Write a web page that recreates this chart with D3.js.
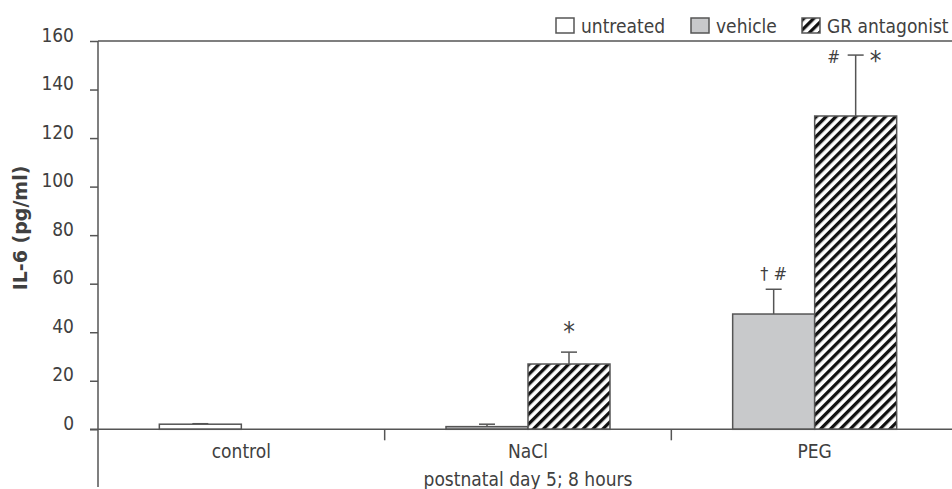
<!DOCTYPE html>
<html>
<head>
<meta charset="utf-8">
<script src="https://cdn.jsdelivr.net/npm/d3@7"></script>
<style>
  body { margin: 0; background: #fff; }
  text { font-family: "DejaVu Sans Condensed", "DejaVu Sans", sans-serif; font-stretch: condensed; fill: #404040; }
</style>
</head>
<body>
<script>
const categories = ["control", "NaCl", "PEG"];
const seriesNames = ["untreated", "vehicle", "GR antagonist"];
// bars drawn in each category, left to right
const barSeries = [["untreated"], ["vehicle", "GR antagonist"], ["vehicle", "GR antagonist"]];
const barValues = [[2.1], [1.1, 26.9], [47.5, 129.1]];
const barErrors = [[0.2], [1.0, 4.9], [10.2, 25.1]];
// significance marks: above the error cap, or left/right of it
const marksAbove = [[""], ["", "*"], ["† #", ""]];
const marksLeft = [[""], ["", ""], ["", "#"]];
const marksRight = [[""], ["", ""], ["", "*"]];
const yTicks = [0, 20, 40, 60, 80, 100, 120, 140, 160];
const xTitle = "postnatal day 5; 8 hours";
const yTitle = "IL-6 (pg/ml)";

const width = 952,
    height = 489;

var svg = d3.select("body").append("svg")
    .attr("width", width)
    .attr("height", height);

var defs = svg.append('defs');
var hatch = defs.append('pattern')
    .attr('id', 'hatch')
    .attr('patternUnits', 'userSpaceOnUse')
    .attr('width', 7)
    .attr('height', 7)
    .attr('patternTransform', 'rotate(45)');
hatch.append('rect').attr('width', 7).attr('height', 7).attr('fill', '#fff');
hatch.append('rect').attr('width', 3.3).attr('height', 7).attr('fill', '#111');

const fills = {"untreated": "#fff", "vehicle": "#c8c9cb", "GR antagonist": "url(#hatch)"};
const axisColor = "#555";

var x = d3.scaleBand().domain(categories).range([98, 958]);
var y = d3.scaleLinear().domain([0, 160]).range([429.3, 41]);
const barW = 82;

// y axis
var yAxis = svg.append('g')
    .attr('transform', 'translate(98,0)')
    .call(d3.axisLeft(y).tickValues(yTicks).tickSize(8).tickPadding(16));
yAxis.select('.domain').remove();
yAxis.selectAll('.tick line').attr('stroke', axisColor).attr('stroke-width', 1.5);
yAxis.selectAll('.tick text')
    .attr('dy', 0)
    .style('font-size', '19px')
    .style('font-family', null);

svg.append('line')
    .attr('x1', 98).attr('x2', 98)
    .attr('y1', y(160)).attr('y2', 487)
    .attr('stroke', axisColor).attr('stroke-width', 1.5);
svg.append('line')
    .attr('x1', 98).attr('x2', width)
    .attr('y1', y(160)).attr('y2', y(160))
    .attr('stroke', axisColor).attr('stroke-width', 1.5);

svg.append('text')
    .attr('transform', 'translate(27,228) rotate(-90)')
    .attr('text-anchor', 'middle')
    .style('font-family', '"DejaVu Sans", sans-serif')
    .style('font-stretch', 'normal')
    .style('font-weight', 'bold')
    .style('font-size', '19px')
    .text(yTitle);

// bars
var groups = svg.append('g').selectAll('g')
    .data(categories)
  .enter().append('g');

groups.each(function(cat, ci) {
    var g = d3.select(this);
    var center = x(cat) + x.bandwidth() / 2;
    barSeries[ci].forEach(function(s, bi) {
        var x0 = center - barW + bi * barW,
            v = barValues[ci][bi],
            top = y(v),
            cap = y(v + barErrors[ci][bi]),
            cx = x0 + barW / 2;
        g.append('line')
            .attr('x1', cx).attr('x2', cx)
            .attr('y1', top).attr('y2', cap)
            .attr('stroke', axisColor).attr('stroke-width', 1.5);
        g.append('line')
            .attr('x1', cx - 8).attr('x2', cx + 8)
            .attr('y1', cap).attr('y2', cap)
            .attr('stroke', axisColor).attr('stroke-width', 1.5);
        g.append('rect')
            .attr('x', x0).attr('y', top)
            .attr('width', barW).attr('height', y(0) - top)
            .attr('fill', fills[s])
            .attr('stroke', axisColor).attr('stroke-width', 1.5);

        var above = marksAbove[ci][bi];
        if (above) {
            var t = g.append('text')
                .attr('x', cx).attr('y', cap - (above == '*' ? 11 : 9))
                .attr('text-anchor', 'middle')
                .style('font-size', above == '*' ? '26px' : '18px')
                .text(above);
        }
        if (marksLeft[ci][bi]) {
            g.append('text')
                .attr('x', cx - 22).attr('y', cap + 8)
                .attr('text-anchor', 'middle')
                .style('font-size', '17px')
                .text(marksLeft[ci][bi]);
        }
        if (marksRight[ci][bi]) {
            g.append('text')
                .attr('x', cx + 20).attr('y', cap + 15)
                .attr('text-anchor', 'middle')
                .style('font-size', '26px')
                .text(marksRight[ci][bi]);
        }
    });
});

// x axis
svg.append('line')
    .attr('x1', 90).attr('x2', width)
    .attr('y1', y(0)).attr('y2', y(0))
    .attr('stroke', axisColor).attr('stroke-width', 1.5);
svg.append('g').selectAll('line')
    .data(categories.slice(1))
  .enter().append('line')
    .attr('x1', d => x(d)).attr('x2', d => x(d))
    .attr('y1', y(0)).attr('y2', y(0) + 11)
    .attr('stroke', axisColor).attr('stroke-width', 1.5);
svg.append('g').selectAll('text')
    .data(categories)
  .enter().append('text')
    .attr('x', d => x(d) + x.bandwidth() / 2)
    .attr('y', 458)
    .attr('text-anchor', 'middle')
    .style('font-size', '19px')
    .text(d => d);
svg.append('text')
    .attr('x', (x.range()[0] + x.range()[1]) / 2)
    .attr('y', 486)
    .attr('text-anchor', 'middle')
    .style('font-size', '19px')
    .text(xTitle);

// legend
const legendX = [556, 691, 802];
var legend = svg.append('g').selectAll('g')
    .data(seriesNames)
  .enter().append('g')
    .attr('transform', (d, i) => 'translate(' + legendX[i] + ',18)');
legend.append('rect')
    .attr('width', 18).attr('height', 15)
    .attr('fill', d => fills[d])
    .attr('stroke', axisColor).attr('stroke-width', 1.5);
legend.append('text')
    .attr('x', 25).attr('y', 14.5)
    .style('font-size', '19px')
    .text(d => d);
</script>
</body>
</html>
